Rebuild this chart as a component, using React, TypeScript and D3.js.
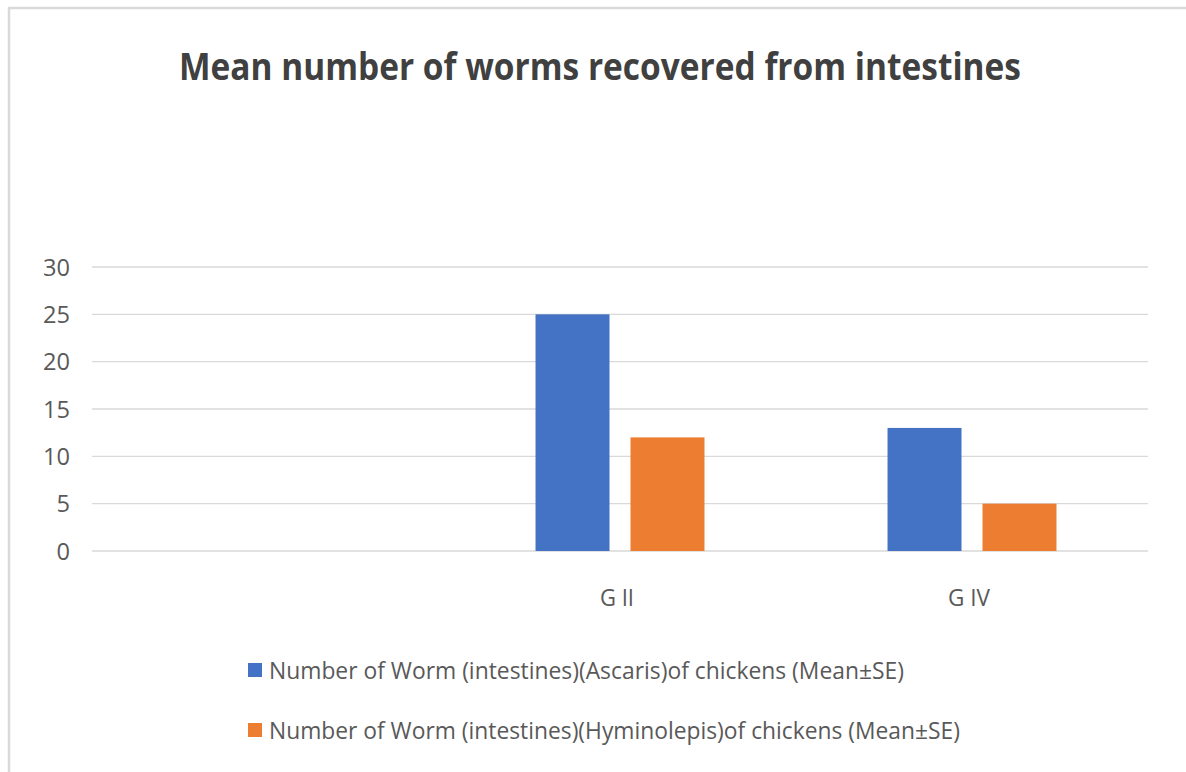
import { useEffect, useRef } from "react";
import * as d3 from "d3";

const categories = ["", "G II", "G IV"];
const seriesNames = [
  "Number of Worm (intestines)(Ascaris)of chickens (Mean±SE)",
  "Number of Worm (intestines)(Hyminolepis)of chickens (Mean±SE)",
];
const ascaris = [null, 25, 13];
const hyminolepis = [null, 12, 5];
const yTicks = [0, 5, 10, 15, 20, 25, 30];
const colors = ["#4472c4", "#ed7d31"];

export default function App() {
  const svgRef = useRef<SVGSVGElement | null>(null);

  useEffect(() => {
    if (!svgRef.current) return;
    const width = 1186;
    const height = 772;
    const svg = d3.select(svgRef.current);
    svg.selectAll("*").remove();

    const font = "'Open Sans', 'Noto Sans', sans-serif";

    // frame (only top and left edges show in the picture)
    svg.append("rect").attr("width", width).attr("height", height).attr("fill", "#fff");
    svg.append("line").attr("x1", 8).attr("x2", width).attr("y1", 8).attr("y2", 8)
      .attr("stroke", "#d9d9d9").attr("stroke-width", 2.5);
    svg.append("line").attr("x1", 9).attr("x2", 9).attr("y1", 8).attr("y2", height)
      .attr("stroke", "#d9d9d9").attr("stroke-width", 2.5);

    svg.append("text")
      .attr("x", 600).attr("y", 80)
      .attr("text-anchor", "middle")
      .attr("font-family", font).attr("font-weight", 700).attr("font-size", 38)
      .attr("fill", "#404040")
      .attr("textLength", 842).attr("lengthAdjust", "spacingAndGlyphs")
      .text("Mean number of worms recovered from intestines");

    const x0 = d3.scaleBand<string>().domain(categories).range([92, 1148]).padding(0);
    const y = d3.scaleLinear().domain([0, 30]).range([551, 267]);
    const bw = x0.bandwidth();
    const groupW = bw * 0.48;
    const x1 = d3.scaleBand<number>().domain([0, 1])
      .range([(bw - groupW) / 2, (bw + groupW) / 2]).paddingInner(0.221).paddingOuter(0);

    const grid = svg.append("g");
    yTicks.forEach((t) => {
      grid.append("line")
        .attr("x1", 92).attr("x2", 1148)
        .attr("y1", y(t)).attr("y2", y(t))
        .attr("stroke", "#d9d9d9").attr("stroke-width", 1.3);
      grid.append("text")
        .attr("x", 70).attr("y", y(t)).attr("dy", "0.36em")
        .attr("text-anchor", "end")
        .attr("font-family", font).attr("font-size", 24)
        .attr("fill", "#595959")
        .attr("textLength", String(t).length * 13.5).attr("lengthAdjust", "spacingAndGlyphs")
        .text(t);
    });

    const series = [ascaris, hyminolepis];
    series.forEach((vals, si) => {
      svg.append("g").selectAll("rect")
        .data(categories.map((c, i) => ({ c, v: vals[i] })).filter((d) => d.v != null))
        .join("rect")
        .attr("x", (d) => (x0(d.c) as number) + (x1(si) as number))
        .attr("width", x1.bandwidth())
        .attr("y", (d) => y(d.v as number))
        .attr("height", (d) => y(0) - y(d.v as number))
        .attr("fill", colors[si]);
    });

    svg.append("g").selectAll("text")
      .data(categories.filter((c) => c !== ""))
      .join("text")
      .attr("x", (d) => (x0(d) as number) + bw / 2 - 3)
      .attr("y", 606)
      .attr("text-anchor", "middle")
      .attr("font-family", font).attr("font-size", 24)
      .attr("fill", "#595959")
      .attr("textLength", (d) => (d === "G II" ? 34 : 42)).attr("lengthAdjust", "spacingAndGlyphs")
      .text((d) => d);

    const legendLens = [635, 691];
    seriesNames.forEach((name, i) => {
      const ly = 670 + i * 60;
      svg.append("rect")
        .attr("x", 248).attr("y", ly - 7).attr("width", 14).attr("height", 14)
        .attr("fill", colors[i]);
      svg.append("text")
        .attr("x", 269).attr("y", ly).attr("dy", "0.36em")
        .attr("font-family", font).attr("font-size", 24)
        .attr("fill", "#595959")
        .attr("textLength", legendLens[i]).attr("lengthAdjust", "spacingAndGlyphs")
        .text(name);
    });
  }, []);

  return (
    <svg
      ref={svgRef}
      width={1186}
      height={772}
      style={{ position: "absolute", left: 0, top: 0, display: "block" }}
    />
  );
}
